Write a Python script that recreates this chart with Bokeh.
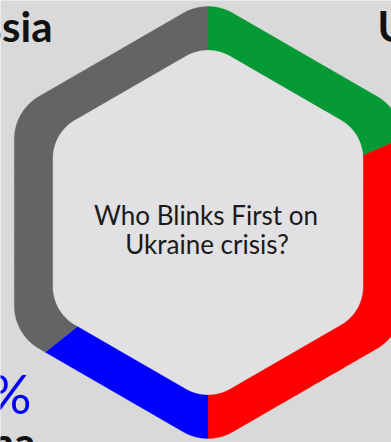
import numpy as np
from bokeh.plotting import figure
from bokeh.models import Range1d
from bokeh.core.properties import value
from bokeh.embed import file_html
from bokeh.resources import INLINE

# ---- data ----
countries = ["US", "EU", "China", "Russia"]
shares = [18.5, 31.5, 14.3, 35.7]
colors = ["#069a37", "#ff0000", "#0000ff", "#636466"]
title_lines = ["Who Blinks First on", "Ukraine crisis?"]

# ---- layout constants ----
W, H = 391, 442
CX, CY = 207.5, 222.0
OUT_R0, OUT_RC = 166.5, 49.5
IN_R0, IN_RC = 128.0, 44.5
BG = "#d9d9d9"
INNER_BG = "#e1e0e2"


def rounded_hex(R0, rc, n_arc=90, n_edge=300):
    xs, ys = [], []
    for k in range(6):
        th = np.radians(60 * k)
        vx, vy = R0 * np.sin(th), -R0 * np.cos(th)
        phis = np.radians(np.linspace(60 * k - 30, 60 * k + 30, n_arc))
        xs.append(vx + rc * np.sin(phis))
        ys.append(vy - rc * np.cos(phis))
        th2 = np.radians(60 * (k + 1))
        v2x, v2y = R0 * np.sin(th2), -R0 * np.cos(th2)
        nphi = np.radians(60 * k + 30)
        p0 = (vx + rc * np.sin(nphi), vy - rc * np.cos(nphi))
        p1 = (v2x + rc * np.sin(nphi), v2y - rc * np.cos(nphi))
        t = np.linspace(0, 1, n_edge)[1:-1]
        xs.append(p0[0] + (p1[0] - p0[0]) * t)
        ys.append(p0[1] + (p1[1] - p0[1]) * t)
    x = np.concatenate(xs)
    y = np.concatenate(ys)
    ang = np.degrees(np.arctan2(x, -y)) % 360
    rad = np.hypot(x, y)
    order = np.argsort(ang)
    ang, rad = ang[order], rad[order]
    ang = np.concatenate([ang - 360, ang, ang + 360])
    rad = np.tile(rad, 3)
    return lambda a: np.interp(a, ang, rad)


outer = rounded_hex(OUT_R0, OUT_RC)
inner = rounded_hex(IN_R0, IN_RC)

p = figure(width=W, height=H, x_range=Range1d(0, W), y_range=Range1d(H, 0),
           output_backend="svg", toolbar_location=None, min_border=0)
p.xaxis.visible = False
p.yaxis.visible = False
p.grid.visible = False
p.outline_line_color = None
p.background_fill_color = BG
p.border_fill_color = BG

# inner fill
a_full = np.linspace(0, 360, 2000)
ri_full = inner(a_full)
p.patch(CX + ri_full * np.sin(np.radians(a_full)),
        CY - ri_full * np.cos(np.radians(a_full)),
        fill_color=INNER_BG, line_color=None)

# ring segments
total = float(sum(shares))
bounds = np.concatenate([[0.0], np.cumsum(shares)]) / total * 360.0
seg_xs, seg_ys = [], []
for a0, a1 in zip(bounds[:-1], bounds[1:]):
    a = np.linspace(a0, a1, 800)
    ro, ri = outer(a), inner(a)
    rad = np.radians(a)
    seg_xs.append(np.concatenate([CX + ro * np.sin(rad), (CX + ri * np.sin(rad))[::-1]]).tolist())
    seg_ys.append(np.concatenate([CY - ro * np.cos(rad), (CY - ri * np.cos(rad))[::-1]]).tolist())
p.patches(seg_xs, seg_ys, fill_color=colors, line_color=colors, line_width=0.3)

# centre title
p.text(x=[205.5, 206.5], y=[214, 243], text=title_lines,
       text_font=value("Lato"), text_font_size="26px", text_color="#1a1a1a",
       text_align="center", text_baseline="alphabetic")

# outside labels (name + percentage), partly beyond the visible window
pct = [f"{s:.0f}%" for s in shares]
name_pos = {"US": (377, 25, "left"), "EU": (420, 470, "left"),
            "China": (35, 441, "right"), "Russia": (52, 25, "right")}
pct_pos = {"US": (377, -60, "left"), "EU": (420, 400, "left"),
           "China": (31, 393, "right"), "Russia": (52, -60, "right")}
for c, col, pc in zip(countries, colors, pct):
    nx, ny, na = name_pos[c]
    p.text(x=[nx], y=[ny], text=[c], text_font=value("Lato"), text_font_size="42px",
           text_font_style="bold", text_color="#111111", text_align=na,
           text_baseline="alphabetic")
    qx, qy, qa = pct_pos[c]
    p.text(x=[qx], y=[qy], text=[pc], text_font=value("Lato"), text_font_size="54px",
           text_color=col, text_align=qa, text_baseline="alphabetic")

open("out.html", "w").write(file_html(p, INLINE))
